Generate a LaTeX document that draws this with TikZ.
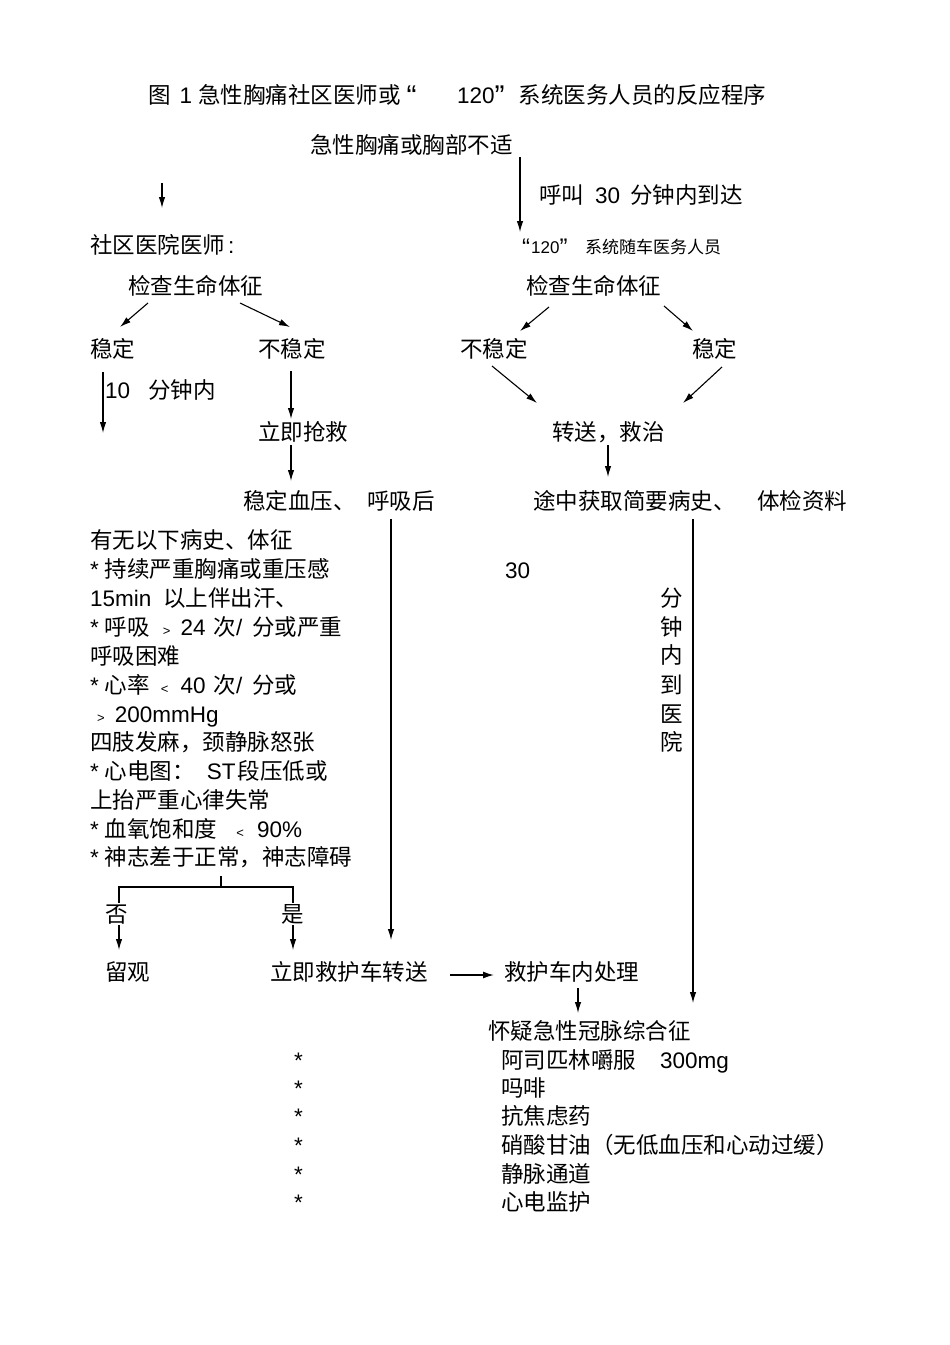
\documentclass[tikz,border=0pt]{standalone}
\usepackage{fontspec}
\setmainfont{Noto Sans CJK SC}
\newfontfamily\latf{Liberation Sans}
\usetikzlibrary{arrows.meta}
\newcommand\lt[1]{{\latf #1}}
\newcommand\sm[1]{{\latf\fontsize{13}{13}\selectfont #1}}
\newcommand\bq[1]{{\latf\fontsize{30}{30}\selectfont #1}}
\newcommand\sq[1]{{\latf\fontsize{24}{24}\selectfont #1}}
\begin{document}
\begin{tikzpicture}[x=1pt,y=-1pt,
  txt/.style={anchor=base west,inner sep=0pt,font=\fontsize{22.5}{26}\selectfont},
  smalltxt/.style={anchor=base west,inner sep=0pt,font=\fontsize{17}{20}\selectfont},
  arr/.style={line width=1.1pt,-{Latex[length=11pt,width=6.5pt]}},
  ln/.style={line width=1.1pt}]
\useasboundingbox[fill=white] (0,0) rectangle (950,1345);

% title
\node[txt] (title1) at (148,103.5) {图\hspace{9pt}\lt{1}\hspace{6pt}急性胸痛社区医师或\hspace{6pt}\raisebox{-3pt}{\bq{“}}};
\node[txt] (title2) at (457,103.5) {\lt{120}\raisebox{-3pt}{\bq{”}}\hspace{14pt}系统医务人员的反应程序};

% top
\node[txt] (start) at (310,153.5) {急性胸痛或胸部不适};
\node[txt] (call) at (539,203.5) {呼叫\hspace{11pt}\lt{30}\hspace{10pt}分钟内到达};
\node[txt] (doc) at (90,253.5) {社区医院医师\hspace{3pt}\lt{:}};
\node[smalltxt] (amb1) at (522,253) {\raisebox{-2.5pt}{\sq{“}}\hspace{1pt}\lt{120}\raisebox{-2.5pt}{\sq{”}}};
\node[smalltxt] (amb2) at (585,253) {系统随车医务人员};

\coordinate (la1) at (162,183); \coordinate (la2) at (162,208);
\draw[arr] (la1) -- (la2);
\coordinate (ra1) at (520,157); \coordinate (ra2) at (520,232);
\draw[arr] (ra1) -- (ra2);

% check vital signs
\node[txt] (chkL) at (128,294.5) {检查生命体征};
\node[txt] (chkR) at (526,294.5) {检查生命体征};
\node[txt] (stL) at (90,357.5) {稳定};
\node[txt] (unL) at (258,357.5) {不稳定};
\node[txt] (unR) at (460,357.5) {不稳定};
\node[txt] (stR) at (692,357.5) {稳定};

\draw[arr] (148,303) -- (120,327);
\draw[arr] (240,303) -- (290,327);
\draw[arr] (549,307) -- (520,331);
\draw[arr] (664,306) -- (693,331);

\node[txt] (ten) at (105,398.5) {\lt{10}};
\node[txt] (tenmin) at (148,398.5) {分钟内};
\draw[arr] (103,372) -- (103,433);
\draw[arr] (291,371) -- (291,419);

\node[txt] (rescue) at (258,440.5) {立即抢救};
\node[txt] (transfer) at (552,440.5) {转送，救治};
\draw[arr] (492,366) -- (537,403);
\draw[arr] (722,367) -- (683,403);

\draw[arr] (291,445) -- (291,481);
\draw[arr] (608,445) -- (608,477);

\node[txt] (stab1) at (243,509.5) {稳定血压、};
\node[txt] (stab2) at (367,509.5) {呼吸后};
\node[txt] (way1) at (533,509.5) {途中获取简要病史、};
\node[txt] (way2) at (757,509.5) {体检资料};

\draw[arr] (391,519) -- (391,940);
\draw[arr] (693,519) -- (693,1003);

\node[txt] (thirty) at (505,578.5) {\lt{30}};
\node[txt] (v1) at (660,606.5) {分};
\node[txt] (v2) at (660,635.5) {钟};
\node[txt] (v3) at (660,663.5) {内};
\node[txt] (v4) at (660,693.5) {到};
\node[txt] (v5) at (660,722.5) {医};
\node[txt] (v6) at (660,750.5) {院};

% left list
\node[txt] (l1) at (90,548.5) {有无以下病史、体征};
\node[txt] (l2) at (90,577.5) {\lt{*}\hspace{6pt}持续严重胸痛或重压感};
\node[txt] (l3) at (90,606.5) {\lt{15min}\hspace{12pt}以上伴出汗、};
\node[txt] (l4) at (90,635.5) {\lt{*}\hspace{6pt}呼吸\hspace{13pt}\sm{>}\hspace{10pt}\lt{24}\hspace{8pt}次\lt{/}\hspace{10pt}分或严重};
\node[txt] (l5) at (90,664.5) {呼吸困难};
\node[txt] (l6) at (90,693.5) {\lt{*}\hspace{6pt}心率\hspace{11pt}\sm{<}\hspace{12pt}\lt{40}\hspace{8pt}次\lt{/}\hspace{10pt}分或};
\node[txt] (l7) at (90,722.5) {\hspace{7pt}\sm{>}\hspace{10pt}\lt{200mmHg}};
\node[txt] (l8) at (90,750.5) {四肢发麻，颈静脉怒张};
\node[txt] (l9) at (90,779.5) {\lt{*}\hspace{6pt}心电图：\hspace{12pt}\lt{ST}\hspace{2pt}段压低或};
\node[txt] (l10) at (90,808.5) {上抬严重心律失常};
\node[txt] (l11) at (90,837.5) {\lt{*}\hspace{6pt}血氧饱和度\hspace{19pt}\sm{<}\hspace{13pt}\lt{90\%}};
\node[txt] (l12) at (90,865.5) {\lt{*}\hspace{6pt}神志差于正常，神志障碍};

% bracket
\coordinate (bt) at (221,876); \coordinate (bm) at (221,887);
\coordinate (bl) at (119,887); \coordinate (br) at (293,887);
\draw[ln] (bt) -- (bm);
\draw[ln] (119,903) -- (bl) -- (br) -- (293,903);

\node[txt] (no) at (105,922.5) {否};
\node[txt] (yes) at (281,922.5) {是};
\draw[arr] (119,925) -- (119,950);
\draw[arr] (293,925) -- (293,950);

\node[txt] (observe) at (105,980.5) {留观};
\node[txt] (ambul) at (270,980.5) {立即救护车转送};
\node[txt] (inamb) at (504,980.5) {救护车内处理};
\draw[line width=1.5pt,-{Latex[length=11pt,width=7pt]}] (450,975) -- (494,975);
\draw[arr] (578,988) -- (578,1013);

\node[txt] (acs) at (488,1039.5) {怀疑急性冠脉综合征};
\node[txt] (m1) at (501,1068.5) {阿司匹林嚼服\hspace{24pt}\lt{300mg}};
\node[txt] (m2) at (501,1096.5) {吗啡};
\node[txt] (m3) at (501,1124.5) {抗焦虑药};
\node[txt] (m4) at (501,1153.5) {硝酸甘油（无低血压和心动过缓）};
\node[txt] (m5) at (501,1182.5) {静脉通道};
\node[txt] (m6) at (501,1210.5) {心电监护};
\foreach \yy/\nm in {1068.5/s1,1096.5/s2,1124.5/s3,1153.5/s4,1182.5/s5,1210.5/s6}
  \node[txt] (\nm) at (294,\yy) {\lt{*}};
\end{tikzpicture}
\end{document}
